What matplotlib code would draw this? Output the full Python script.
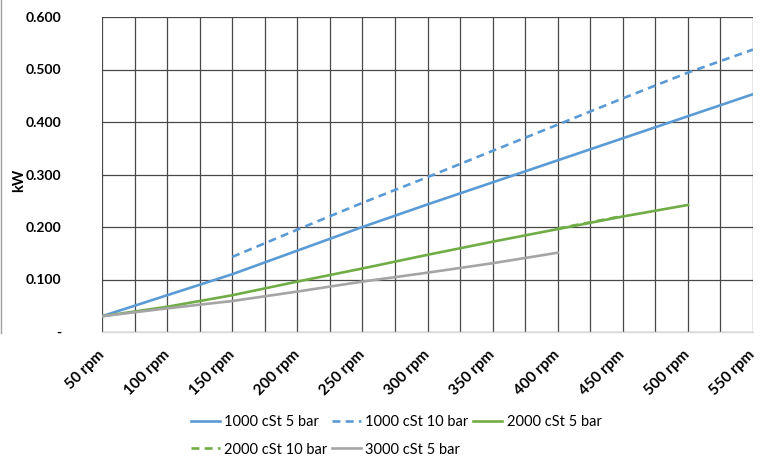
import matplotlib.pyplot as plt
from matplotlib.lines import Line2D
from matplotlib.ticker import FixedLocator

plt.rcParams['font.family'] = ['Lato', 'DejaVu Sans']

rpm = [50, 100, 150, 200, 250, 300, 350, 400, 450, 500, 550]
kw_1000_5 = [0.030, 0.070, 0.110, 0.155, 0.200, 0.243, 0.285, 0.327, 0.369, 0.411, 0.453]
rpm_1000_10 = [150, 200, 250, 300, 350, 400, 450, 500, 550]
kw_1000_10 = [0.143, 0.195, 0.246, 0.295, 0.345, 0.395, 0.445, 0.494, 0.538]
rpm_2000_5 = [50, 100, 150, 200, 250, 300, 350, 400, 450, 500]
kw_2000_5 = [0.030, 0.048, 0.070, 0.096, 0.121, 0.147, 0.172, 0.196, 0.220, 0.242]
rpm_2000_10 = [400, 450]
kw_2000_10 = [0.197, 0.221]
rpm_3000_5 = [50, 100, 150, 200, 250, 300, 350, 400]
kw_3000_5 = [0.030, 0.045, 0.059, 0.077, 0.096, 0.113, 0.131, 0.151]

x_ticks = list(range(50, 551, 50))
x_labels = [f"{v} rpm" for v in x_ticks]
y_ticks = [0.0, 0.1, 0.2, 0.3, 0.4, 0.5, 0.6]
y_labels = ['-', '0.100', '0.200', '0.300', '0.400', '0.500', '0.600']

blue = '#5B9BD5'
green = '#70AD47'
grey = '#A5A5A5'

fig = plt.figure(figsize=(7.66, 4.68), dpi=100)
ax = fig.add_axes([102 / 766, 1 - 332 / 468, 651 / 766, 315 / 468])

lw = 1.9
l1, = ax.plot(rpm, kw_1000_5, color=blue, lw=lw, label='1000 cSt 5 bar')
l2, = ax.plot(rpm_1000_10, kw_1000_10, color=blue, lw=lw, ls=(0, (3, 2)), label='1000 cSt 10 bar')
l3, = ax.plot(rpm_2000_5, kw_2000_5, color=green, lw=lw, label='2000 cSt 5 bar')
l4, = ax.plot(rpm_2000_10, kw_2000_10, color=green, lw=lw, ls=(0, (3, 2)), label='2000 cSt 10 bar')
l5, = ax.plot(rpm_3000_5, kw_3000_5, color=grey, lw=lw, label='3000 cSt 5 bar')

ax.set_xlim(50, 550)
ax.set_ylim(0, 0.6)
ax.xaxis.set_minor_locator(FixedLocator(list(range(75, 550, 50))))

ax.grid(True, which='both', axis='x', color='#484848', lw=0.9)
ax.grid(True, which='major', axis='y', color='#484848', lw=0.9)
ax.set_axisbelow(True)
for s in ['top', 'right', 'left']:
    ax.spines[s].set_visible(False)
ax.spines['bottom'].set_color('#D9D9D9')
ax.spines['bottom'].set_linewidth(1.0)

ax.tick_params(axis='both', which='both', length=0)
ax.set_yticks(y_ticks)
ax.set_yticklabels(y_labels, fontweight='bold', fontsize=10)
ax.tick_params(axis='y', pad=29)
ax.set_xticks(x_ticks)
ax.set_xticklabels(x_labels, rotation=45, ha='right', va='center',
                   rotation_mode='anchor', fontweight='bold', fontsize=11)
ax.tick_params(axis='x', pad=15)

fig.text(19 / 766, 1 - 180 / 468, 'kW', rotation=90, ha='center', va='center',
         fontweight='bold', fontsize=10.5)

# edge of neighbouring chart at the far left
fig.add_artist(Line2D([1.5 / 766, 1.5 / 766], [1.0, 1 - 333 / 468], color='#A0A0A0', lw=1.0))

# legend filled row by row like the reference
fig.legend([l1, l4, l2, l5, l3],
           ['1000 cSt 5 bar', '2000 cSt 10 bar', '1000 cSt 10 bar', '3000 cSt 5 bar', '2000 cSt 5 bar'],
           loc='center', bbox_to_anchor=(396 / 766, 1 - 436 / 468), ncol=3,
           frameon=False, fontsize=10.5, handlelength=2.0, handletextpad=0.3,
           columnspacing=0.3, labelspacing=0.9)

fig.savefig('out.png', dpi=100)
